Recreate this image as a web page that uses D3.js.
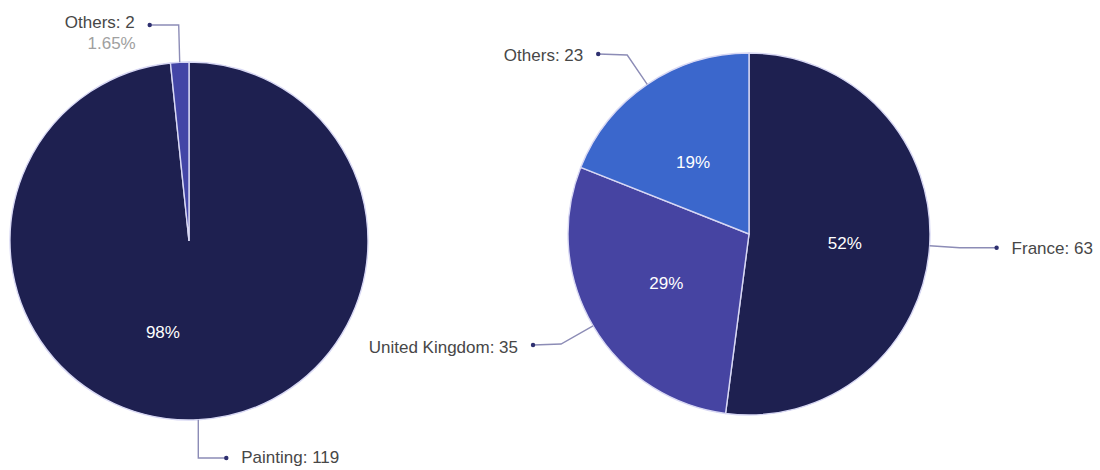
<!DOCTYPE html>
<html>
<head>
<meta charset="utf-8">
<script src="https://cdn.jsdelivr.net/npm/d3@7/dist/d3.min.js"></script>
<style>
  html, body { margin: 0; padding: 0; background: #ffffff; }
  svg { display: block; }
  .callout { font-family: "Liberation Sans", Arial, sans-serif; font-size: 17px; fill: #474747; }
  .sub { fill: #a0a0a0; }
  .pct { font-family: "Liberation Sans", Arial, sans-serif; font-size: 17px; fill: #ffffff; }
</style>
</head>
<body>
<script>
// Artworks by medium
const mediumCategories = ["Painting", "Others"];
const mediumValues = [119, 2];

// Artworks by country
const countryCategories = ["France", "United Kingdom", "Others"];
const countryValues = [63, 35, 23];

const W = 1100, H = 470;
const svg = d3.select("body").append("svg").attr("width", W).attr("height", H);

const fmtPct = v => d3.format(".0%")(v);

function drawPie(cfg) {
  const total = d3.sum(cfg.values);
  const items = cfg.categories.map((c, i) => ({ name: c, value: cfg.values[i], i }));
  const pie = d3.pie().value(d => d.value).sort(null);
  const arcs = pie(items);
  const arc = d3.arc().innerRadius(0).outerRadius(cfg.r);
  const color = d3.scaleOrdinal().domain(cfg.categories).range(cfg.colors);

  const g = svg.append("g").attr("transform", `translate(${cfg.cx},${cfg.cy})`);

  g.selectAll("path.slice").data(arcs).join("path")
    .attr("class", "slice")
    .attr("d", arc)
    .attr("fill", d => color(d.data.name))
    .attr("stroke", "#d8d8f4")
    .attr("stroke-width", 1.4);

  // percentage labels inside the larger slices
  const pctArc = d3.arc().innerRadius(cfg.pctR).outerRadius(cfg.pctR);
  g.selectAll("text.pct").data(arcs.filter(d => d.value / total > 0.05)).join("text")
    .attr("class", "pct")
    .attr("text-anchor", "middle")
    .attr("dy", "0.35em")
    .attr("transform", d => {
      const c = pctArc.centroid(d);
      const n = cfg.pctNudge[d.index] || [0, 0];
      return `translate(${c[0] + n[0]},${c[1] + n[1]})`;
    })
    .text(d => fmtPct(d.value / total));

  // callouts with leader lines
  arcs.forEach(d => {
    const mid = (d.startAngle + d.endAngle) / 2;
    const p0 = [Math.sin(mid) * cfg.r, -Math.cos(mid) * cfg.r];
    const lay = cfg.callouts[d.index];
    const pts = [p0].concat(lay.path(p0));
    const end = pts[pts.length - 1];
    g.append("path")
      .attr("d", d3.line()(pts))
      .attr("fill", "none")
      .attr("stroke", "#8c8cb6")
      .attr("stroke-width", 1.4);
    g.append("circle")
      .attr("cx", end[0]).attr("cy", end[1]).attr("r", 2.2)
      .attr("fill", "#2e3070");
    g.append("text")
      .attr("class", "callout")
      .attr("x", end[0] + lay.side * 15)
      .attr("y", end[1] + lay.dy)
      .attr("text-anchor", lay.side > 0 ? "start" : "end")
      .attr("dy", "0.35em")
      .text(`${d.data.name}: ${d.data.value}`);
    if (lay.showPct) {
      g.append("text")
        .attr("class", "callout sub")
        .attr("x", end[0] + lay.side * 14)
        .attr("y", end[1] + lay.dy + 21)
        .attr("text-anchor", lay.side > 0 ? "start" : "end")
        .attr("dy", "0.35em")
        .text(d3.format(".2%")(d.data.value / total));
    }
  });
}

drawPie({
  categories: mediumCategories,
  values: mediumValues,
  cx: 189, cy: 241, r: 179,
  colors: ["#1e2050", "#4345a6"],
  pctR: 95,
  pctNudge: { 0: [-31, -4] },
  callouts: {
    0: { side: 1, dy: -1, path: p => [[p[0], 217], [p[0] + 28, 217]] },
    1: { side: -1, dy: -3, showPct: true, path: p => [[p[0] - 1, -216], [p[0] - 30, -216]] }
  }
});

drawPie({
  categories: countryCategories,
  values: countryValues,
  cx: 749, cy: 234, r: 181,
  colors: ["#1e2050", "#4644a2", "#3b67cc"],
  pctR: 96,
  pctNudge: { 0: [0, 3], 1: [0, 0], 2: [-2, 7] },
  callouts: {
    0: { side: 1, dy: 0, path: p => [[p[0] + 30, p[1] + 2], [p[0] + 67, p[1] + 2]] },
    1: { side: -1, dy: 2, path: p => [[p[0] - 32, 110], [p[0] - 60, 111]] },
    2: { side: -1, dy: 1, path: p => [[p[0] - 20, -179], [p[0] - 49, -180]] }
  }
});
</script>
</body>
</html>
